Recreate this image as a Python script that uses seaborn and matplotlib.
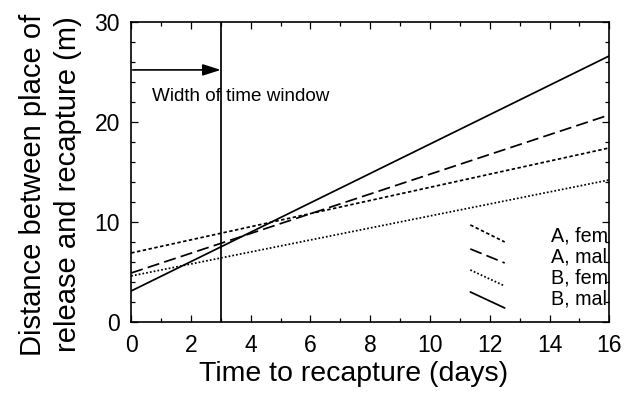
import numpy as np
import pandas as pd
import matplotlib
matplotlib.use("Agg")
import matplotlib.pyplot as plt
import seaborn as sns
from matplotlib.ticker import MultipleLocator

# Regression lines: distance at day 0 and at day 16
groups = ["A, fem", "A, mal", "B, fem", "B, mal"]
start_vals = [6.9, 4.9, 4.6, 3.1]
end_vals = [17.4, 20.7, 14.2, 26.6]
days = [0, 16]
window_day = 3

line_styles = {
    "A, fem": (0, (2, 1.4)),
    "A, mal": (0, (7, 3)),
    "B, fem": (0, (1, 1.2)),
    "B, mal": "-",
}

rows = []
for g, s, e in zip(groups, start_vals, end_vals):
    rows.append({"group": g, "day": days[0], "dist": s})
    rows.append({"group": g, "day": days[1], "dist": e})
df = pd.DataFrame(rows)

sns.set_style("ticks", {"axes.edgecolor": "black", "text.color": "black",
                        "xtick.color": "black", "ytick.color": "black",
                        "axes.labelcolor": "black"})
plt.rcParams['font.family'] = ['Liberation Sans', 'DejaVu Sans']

fig = plt.figure(figsize=(6.4, 3.98), dpi=100)
ax = fig.add_axes([0.205, 0.191, 0.747, 0.754])

for g in groups:
    sub = df[df["group"] == g]
    sns.lineplot(data=sub, x="day", y="dist", ax=ax, color="black",
                 linewidth=1.25, linestyle=line_styles[g], legend=False)

# time window marker
ax.axvline(window_day, color="black", linewidth=1.25)
ax.annotate("", xy=(window_day, 25.2), xytext=(0.05, 25.2),
            arrowprops=dict(arrowstyle="-|>,head_length=1.1,head_width=0.35",
                            color="black", lw=1.2, shrinkA=0, shrinkB=0))
ax.text(0.7, 22.5, "Width of time window", fontsize=13.6, va="center", ha="left")

# legend drawn as slanted samples
leg_y = [(9.7, 8.0), (7.3, 5.9), (5.2, 3.6), (3.0, 1.4)]
leg_label_y = [8.6, 6.5, 4.4, 2.3]
for g, (y0, y1), ly in zip(groups, leg_y, leg_label_y):
    ax.plot([11.35, 12.5], [y0, y1], color="black", linewidth=1.25,
            linestyle=line_styles[g])
    ax.text(14.05, ly, g, fontsize=14.2, va="center", ha="left")

ax.set_xlim(0, 16)
ax.set_ylim(0, 30)
ax.xaxis.set_major_locator(MultipleLocator(2))
ax.xaxis.set_minor_locator(MultipleLocator(1))
ax.yaxis.set_major_locator(MultipleLocator(10))
ax.yaxis.set_minor_locator(MultipleLocator(2))
ax.tick_params(which="both", direction="in", top=True, right=True,
               labelsize=16.5, width=0.9, color="black", labelcolor="black")
ax.tick_params(axis="x", pad=9)
ax.tick_params(axis="y", pad=8)
ax.tick_params(which="major", length=5)
ax.tick_params(which="minor", length=3)
for sp in ax.spines.values():
    sp.set_linewidth(1.2)
    sp.set_color("black")
    sp.set_visible(True)

ax.set_xlabel("Time to recapture (days)", fontsize=20.5)
ax.set_ylabel("Distance between place of\nrelease and recapture (m)",
              fontsize=21, linespacing=1.3)
ax.xaxis.set_label_coords(0.465, -0.13)
ax.yaxis.set_label_coords(-0.103, 0.458)

fig.savefig("out.png", dpi=100)
